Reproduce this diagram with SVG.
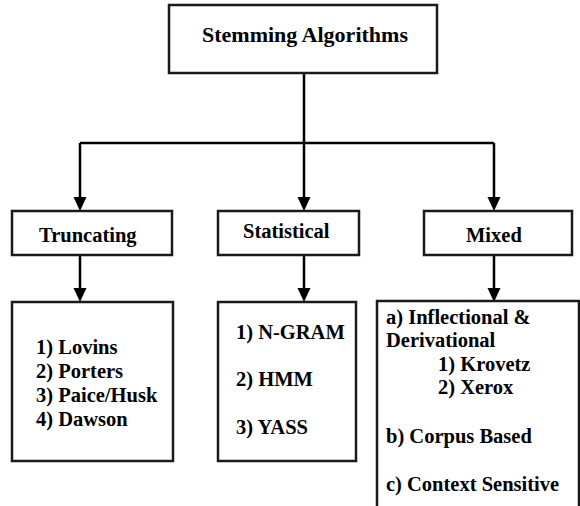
<svg xmlns="http://www.w3.org/2000/svg" width="580" height="506" viewBox="0 0 580 506">
<style>
.box{fill:#fff;stroke:#1a1a1a;stroke-width:2.5}
.t{font-family:'Liberation Serif','Times New Roman',Times,serif;font-weight:bold;font-size:20.5px;fill:#000}
.title{font-size:22px}
.c{stroke:#000;stroke-width:2.5;fill:none}
</style>
<g id="connectors">
<path class="c" d="M304,73 V143"/>
<path class="c" d="M80,143 H494"/>
<path class="c" d="M80,143 V197"/>
<path class="c" d="M304,143 V197"/>
<path class="c" d="M494,143 V197"/>
<polygon points="73.5,197 86.5,197 80,211" fill="#000"/>
<polygon points="297.5,197 310.5,197 304,211" fill="#000"/>
<polygon points="487.5,197 500.5,197 494,211" fill="#000"/>
<path class="c" d="M80,255 V288"/>
<path class="c" d="M304,255 V288"/>
<path class="c" d="M494,255 V288"/>
<polygon points="73.5,288 86.5,288 80,302" fill="#000"/>
<polygon points="297.5,288 310.5,288 304,302" fill="#000"/>
<polygon points="487.5,288 500.5,288 494,302" fill="#000"/>
</g>
<g id="root">
<rect class="box" x="169" y="5" width="268" height="68"/>
<text class="t title" x="202" y="42">Stemming Algorithms</text>
</g>
<g id="truncating">
<rect class="box" x="12" y="211" width="160" height="44"/>
<text class="t" x="39" y="242">Truncating</text>
</g>
<g id="statistical">
<rect class="box" x="218" y="211" width="141" height="44"/>
<text class="t" x="243" y="238">Statistical</text>
</g>
<g id="mixed">
<rect class="box" x="424" y="211" width="148" height="44"/>
<text class="t" x="466" y="242">Mixed</text>
</g>
<g id="truncating-list">
<rect class="box" x="12" y="302" width="161" height="159"/>
<text class="t" x="36" y="354">1) Lovins</text>
<text class="t" x="36" y="378">2) Porters</text>
<text class="t" x="36" y="402">3) Paice/Husk</text>
<text class="t" x="36" y="426">4) Dawson</text>
</g>
<g id="statistical-list">
<rect class="box" x="218" y="302" width="138" height="159"/>
<text class="t" x="236" y="339">1) N-GRAM</text>
<text class="t" x="236" y="386">2) HMM</text>
<text class="t" x="236" y="434">3) YASS</text>
</g>
<g id="mixed-list">
<rect class="box" x="377" y="301" width="202" height="212"/>
<text class="t" x="386" y="324">a) Inflectional &amp;</text>
<text class="t" x="386" y="347">Derivational</text>
<text class="t" x="438" y="371">1) Krovetz</text>
<text class="t" x="438" y="394">2) Xerox</text>
<text class="t" x="386" y="443">b) Corpus Based</text>
<text class="t" x="386" y="491">c) Context Sensitive</text>
</g>
</svg>
